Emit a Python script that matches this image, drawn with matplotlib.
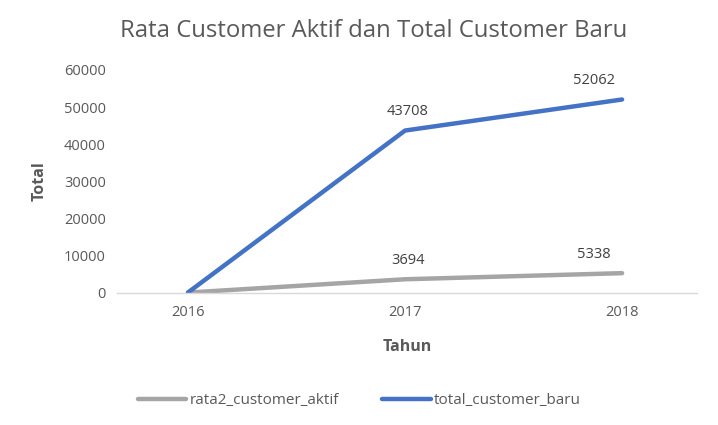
import matplotlib as mpl
mpl.use('Agg')
import matplotlib.pyplot as plt

# data
tahun = ['2016', '2017', '2018']
rata2_customer_aktif = [110, 3694, 5338]
total_customer_baru = [140, 43708, 52062]
y_ticks = [0, 10000, 20000, 30000, 40000, 50000, 60000]

plt.rcParams['font.family'] = ['Open Sans', 'DejaVu Sans']

fig = plt.figure(figsize=(7.18, 4.25), dpi=100)
ax = fig.add_axes([0.163, 0.3106, 0.808, 0.5247])

x = list(range(len(tahun)))
ax.plot(x, rata2_customer_aktif, color='#A5A5A5', lw=3.2, solid_capstyle='round',
        label='rata2_customer_aktif')
ax.plot(x, total_customer_baru, color='#4472C4', lw=3.2, solid_capstyle='round',
        label='total_customer_baru')

# data labels (skip first year like in the original)
for series in (rata2_customer_aktif, total_customer_baru):
    for i in range(1, len(x)):
        dx = -20 if i == len(x) - 1 else 2
        ax.annotate(str(series[i]), (x[i], series[i]), xytext=(dx, 8),
                    textcoords='offset points', ha='center', va='bottom',
                    fontsize=10.5, color='#404040')

ax.set_xlim(-0.327, 2.346)
ax.set_ylim(0, 60000)
ax.set_xticks(x)
ax.set_xticklabels(tahun)
ax.set_yticks(y_ticks)
ax.set_yticklabels([str(v) for v in y_ticks])
ax.tick_params(length=0, labelsize=10.5, colors='#595959', pad=8)
ax.tick_params(axis='x', pad=9)

for s in ['top', 'right', 'left']:
    ax.spines[s].set_visible(False)
ax.spines['bottom'].set_color('#D9D9D9')
ax.spines['bottom'].set_linewidth(1)

ax.set_xlabel('Tahun', fontsize=11.5, fontweight='bold', color='#595959', labelpad=13)
ax.set_ylabel('Total', fontsize=11.5, fontweight='bold', color='#595959', labelpad=12)

fig.suptitle('Rata Customer Aktif dan Total Customer Baru', x=0.52, y=0.955,
             fontsize=17.2, color='#595959')

fig.legend(loc='center', bbox_to_anchor=(0.5, 0.058), ncol=2, frameon=False,
           fontsize=11, labelcolor='#595959', handlelength=3.2, handletextpad=0.2,
           columnspacing=2.8)

fig.savefig('out.png', dpi=100)
